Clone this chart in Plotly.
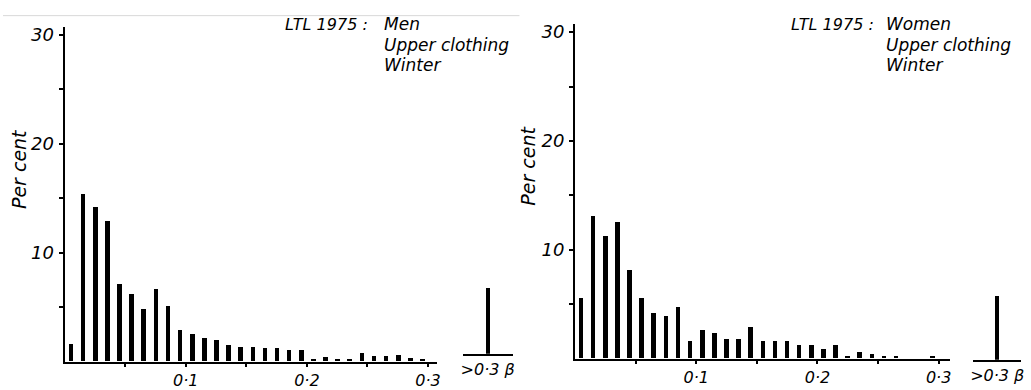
import plotly.graph_objects as go

# Bin midpoints of beta (bin width 0.01, 0 to 0.3)
beta_mid = [round(0.005 + 0.01 * i, 3) for i in range(30)]

# Percentage of subjects per beta bin, upper clothing, winter (LTL 1975)
men_pct = [1.6, 15.4, 14.2, 12.9, 7.1, 6.2, 4.8, 6.6, 5.1, 2.9,
           2.5, 2.1, 2.0, 1.5, 1.3, 1.3, 1.2, 1.2, 1.0, 1.0,
           0.2, 0.4, 0.2, 0.2, 0.8, 0.5, 0.5, 0.6, 0.3, 0.2]
women_pct = [5.5, 13.1, 11.2, 12.5, 8.1, 5.5, 4.2, 3.9, 4.7, 1.6,
             2.6, 2.3, 1.8, 1.8, 2.9, 1.6, 1.6, 1.6, 1.2, 1.2,
             0.9, 1.2, 0.2, 0.6, 0.4, 0.2, 0.2, 0.0, 0.0, 0.2]

# Share of subjects with beta above 0.3
men_over = [6.0]
women_over = [5.8]
over_label = [">0·3 β"]

x_tickvals = [0.05, 0.1, 0.15, 0.2, 0.25, 0.3]
x_ticktext = ["", "0·1", "", "0·2", "", "0·3"]
y_tickvals = [5, 10, 15, 20, 25, 30]
y_ticktext = ["", "10", "", "20", "", "30"]

W, H = 1031, 390
FONT = "DejaVu Sans"


def px_x(p):
    return p / W


def px_y(p):
    return 1 - p / H


fig = go.Figure()

bar_style = dict(marker=dict(color="black", line=dict(width=0)), showlegend=False,
                 hoverinfo="skip")

fig.add_trace(go.Bar(x=beta_mid, y=men_pct, width=0.0038, xaxis="x", yaxis="y", **bar_style))
fig.add_trace(go.Bar(x=beta_mid, y=women_pct, width=0.0038, xaxis="x2", yaxis="y2", **bar_style))
fig.add_trace(go.Bar(x=[0.5], y=men_over, width=0.09, xaxis="x3", yaxis="y3", **bar_style))
fig.add_trace(go.Bar(x=[0.5], y=women_over, width=0.09, xaxis="x4", yaxis="y4", **bar_style))

tick_font = dict(family=FONT, size=16, color="black", style="italic")

main_x = dict(showgrid=False, zeroline=False, showline=True, linecolor="black", linewidth=2,
              ticks="outside", ticklen=3, tickwidth=1.5, tickcolor="black",
              tickmode="array", tickvals=x_tickvals, ticktext=x_ticktext,
              tickfont=tick_font, fixedrange=True)
main_y = dict(showgrid=False, zeroline=False, showline=True, linecolor="black", linewidth=2,
              ticks="outside", ticklen=4, tickwidth=1.5, tickcolor="black",
              tickmode="array", tickvals=y_tickvals, ticktext=y_ticktext,
              tickfont=dict(family=FONT, size=18, color="black", style="italic"),
              ticklabelstandoff=1, fixedrange=True)
inset_x = dict(showgrid=False, zeroline=False, showline=True, linecolor="black", linewidth=2,
               ticks="", tickmode="array", tickvals=[0.5], ticktext=over_label,
               tickfont=tick_font, range=[0, 1], fixedrange=True)
inset_y = dict(visible=False, showgrid=False, zeroline=False, fixedrange=True)

fig.update_layout(
    width=W, height=H,
    margin=dict(l=0, r=0, t=0, b=0),
    paper_bgcolor="white", plot_bgcolor="white",
    bargap=0,
    xaxis=dict(main_x, domain=[px_x(62), px_x(437)], range=[0, 0.3074], anchor="y"),
    yaxis=dict(main_y, domain=[px_y(369), px_y(25)], range=[0, 30.71], anchor="x"),
    xaxis2=dict(main_x, domain=[px_x(576), px_x(953)], range=[0, 0.309], anchor="y2"),
    yaxis2=dict(main_y, domain=[px_y(366), px_y(22)], range=[0, 30.71], anchor="x2"),
    xaxis3=dict(inset_x, domain=[px_x(463), px_x(513)], anchor="y3"),
    yaxis3=dict(inset_y, domain=[px_y(361), px_y(25)], range=[0, 30], anchor="x3"),
    xaxis4=dict(inset_x, domain=[px_x(977), px_x(1025)], anchor="y4"),
    yaxis4=dict(inset_y, domain=[px_y(367), px_y(31)], range=[0, 30], anchor="x4"),
)

note_font = dict(family=FONT, size=17, color="black", style="italic")


def note(text, xp, yp, anchor="left", angle=0, size=17):
    fig.add_annotation(text=text, x=px_x(xp), y=px_y(yp), xref="paper", yref="paper",
                       xanchor=anchor, yanchor="middle", showarrow=False,
                       font=dict(note_font, size=size), textangle=angle)


# Panel captions
note("LTL 1975 :", 370, 22, anchor="right", size=16)
note("Men", 382, 22)
note("Upper clothing", 382, 43)
note("Winter", 382, 64)

note("LTL 1975 :", 879, 22, anchor="right", size=16)
note("Women", 887, 22)
note("Upper clothing", 887, 43)
note("Winter", 887, 64)

# Y-axis titles
note("Per cent", 16, 171, anchor="center", angle=-90, size=19)
note("Per cent", 529, 167, anchor="center", angle=-90, size=19)

# Faint rule across the top of the page
fig.add_shape(type="line", xref="paper", yref="paper",
              x0=0, x1=px_x(520), y0=px_y(13), y1=px_y(13),
              line=dict(color="#d9d9d9", width=1))

fig.write_html("out.html")
